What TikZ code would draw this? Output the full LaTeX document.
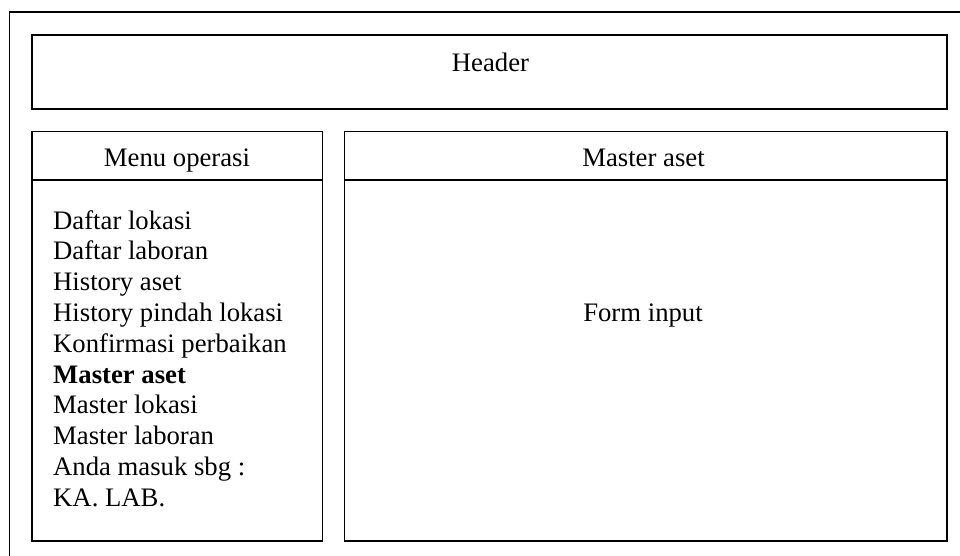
\documentclass[tikz,border=0pt]{standalone}
\usepackage{fontspec}
\setmainfont{Liberation Serif}
\begin{document}
\begin{tikzpicture}[x=1pt,y=-1pt,
  frame/.style={draw=black,line width=1.5pt},
  label/.style={inner sep=0pt,anchor=base,font=\fontsize{26.7}{30.8}\selectfont},
  menuitem/.style={inner sep=0pt,anchor=base west,font=\fontsize{26.7}{30.8}\selectfont}]
  \useasboundingbox (0,0) rectangle (960,555);
  % outer page frame (runs off the right and bottom edges)
  \coordinate (pageTL) at (9.5,12);
  \coordinate (pageTR) at (970,12);
  \coordinate (pageBL) at (9.5,570);
  \draw[frame] (pageTR) -- (pageTL) -- (pageBL);
  % header
  \draw[frame] (32,35) rectangle (947,109);
  \node[label] (header) at (490.5,71.7) {Header};
  % menu panel
  \draw[frame] (32,131.5) rectangle (322.5,541);
  \draw[frame] (32,180) -- (322.5,180);
  \node[label] (menutitle) at (177,166.7) {Menu operasi};
  % content panel
  \draw[frame] (344.5,131.5) rectangle (947,541);
  \draw[frame] (344.5,180) -- (947,180);
  \node[label] (contenttitle) at (643.5,166.7) {Master aset};
  \node[label] (form) at (643,321.7) {Form input};
  % menu entries
  \node[menuitem] (m1) at (53,229) {Daftar lokasi};
  \node[menuitem] (m2) at (53,259.8) {Daftar laboran};
  \node[menuitem] (m3) at (53,290.6) {History aset};
  \node[menuitem] (m4) at (53,321.4) {History pindah lokasi};
  \node[menuitem] (m5) at (53,352.2) {Konfirmasi perbaikan};
  \node[menuitem,font=\fontsize{26.7}{30.8}\selectfont\bfseries] (m6) at (53,383) {Master aset};
  \node[menuitem] (m7) at (53,413.8) {Master lokasi};
  \node[menuitem] (m8) at (53,444.6) {Master laboran};
  \node[menuitem] (m9) at (53,475.4) {Anda masuk sbg :};
  \node[menuitem] (m10) at (53,506.2) {KA. LAB.};
\end{tikzpicture}
\end{document}
